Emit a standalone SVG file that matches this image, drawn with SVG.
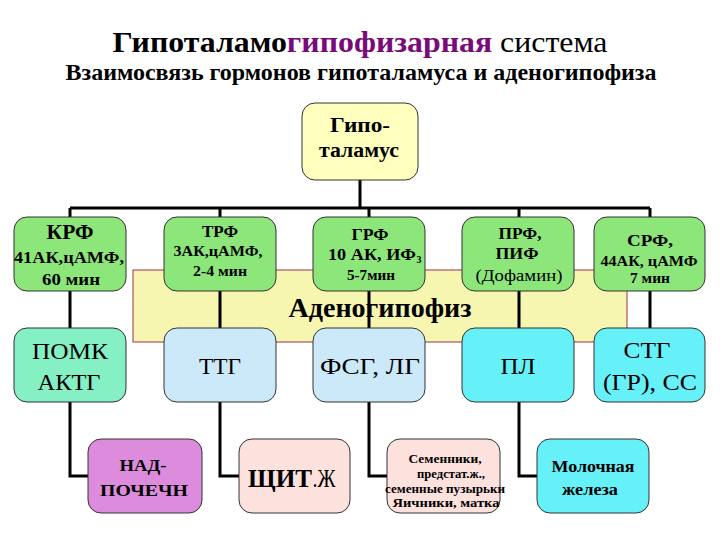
<svg xmlns="http://www.w3.org/2000/svg" width="720" height="540" viewBox="0 0 720 540">
<style>
text{font-family:"Liberation Serif","DejaVu Serif","Times New Roman",serif;fill:#000;text-anchor:middle}
.b{font-weight:bold}
.box{stroke:#333;stroke-width:1}
.green{fill:#8CE67A}
.mint{fill:#84F0C4}
.lblue{fill:#CCE9FA}
.cyan{fill:#66F0F8}
.orchid{fill:#DD8CDD}
.pink{fill:#FCE1DC}
.conn line,.conn polyline{stroke:#000;stroke-width:3;fill:none}
</style>
<rect width="720" height="540" fill="#fff"/>
<g id="title">
<text x="360" y="52" font-size="30" textLength="495" lengthAdjust="spacingAndGlyphs"><tspan class="b">Гипоталамо</tspan><tspan class="b" fill="#7A0A78">гипофизарная</tspan><tspan> система</tspan></text>
<text class="b" x="361" y="80" font-size="24" textLength="591" lengthAdjust="spacingAndGlyphs">Взаимосвязь гормонов гипоталамуса и аденогипофиза</text>
</g>
<g id="adenohypophysis">
<rect x="133" y="270" width="494" height="72" fill="#F6F6B0" stroke="#993355" stroke-width="1"/>
<text class="b" x="380" y="317" font-size="28" textLength="183" lengthAdjust="spacingAndGlyphs">Аденогипофиз</text>
</g>
<g id="connectors" class="conn">
<line x1="360" y1="180" x2="360" y2="208"/>
<line x1="70" y1="208" x2="650" y2="208"/>
<line x1="70" y1="208" x2="70" y2="217"/>
<line x1="220" y1="208" x2="220" y2="217"/>
<line x1="369" y1="208" x2="369" y2="217"/>
<line x1="519" y1="208" x2="519" y2="217"/>
<line x1="650" y1="208" x2="650" y2="217"/>
<line x1="70" y1="291" x2="70" y2="328"/>
<line x1="220" y1="291" x2="220" y2="328"/>
<line x1="369" y1="291" x2="369" y2="328"/>
<line x1="519" y1="291" x2="519" y2="328"/>
<line x1="650" y1="291" x2="650" y2="328"/>
<polyline points="70,402 70,476 88,476"/>
<polyline points="220,402 220,476 239,476"/>
<polyline points="369,402 369,476 387,476"/>
<polyline points="519,402 519,476 537,476"/>
</g>
<g id="hypothalamus">
<rect class="box" x="302" y="103" width="116" height="77" rx="13" fill="#FFFFBE"/>
<text class="b" x="360" y="132" font-size="20" textLength="60" lengthAdjust="spacingAndGlyphs">Гипо-</text>
<text class="b" x="359" y="157" font-size="20" textLength="80" lengthAdjust="spacingAndGlyphs">таламус</text>
</g>
<g id="krf">
<rect class="box green" x="14" y="217" width="112" height="74" rx="13"/>
<text class="b" x="70" y="239" font-size="21" textLength="47" lengthAdjust="spacingAndGlyphs">КРФ</text>
<text class="b" x="69" y="263" font-size="16" textLength="110" lengthAdjust="spacingAndGlyphs">41АК,цАМФ,</text>
<text class="b" x="71" y="285" font-size="16" textLength="58" lengthAdjust="spacingAndGlyphs">60 мин</text>
</g>
<g id="trf">
<rect class="box green" x="164" y="217" width="112" height="74" rx="13"/>
<text class="b" x="220" y="237" font-size="16" textLength="36" lengthAdjust="spacingAndGlyphs">ТРФ</text>
<text class="b" x="218" y="256" font-size="14" textLength="89" lengthAdjust="spacingAndGlyphs">3АК,цАМФ,</text>
<text class="b" x="220" y="276" font-size="14" textLength="54" lengthAdjust="spacingAndGlyphs">2-4 мин</text>
</g>
<g id="grf">
<rect class="box green" x="313" y="217" width="112" height="74" rx="13"/>
<text class="b" x="370" y="240" font-size="16" textLength="37" lengthAdjust="spacingAndGlyphs">ГРФ</text>
<text class="b" x="372" y="260" font-size="16" textLength="88" lengthAdjust="spacingAndGlyphs">10 АК, ИФ</text>
<text class="b" x="416.5" y="263" font-size="10" style="text-anchor:start">3</text>
<text class="b" x="371" y="280" font-size="14" textLength="48" lengthAdjust="spacingAndGlyphs">5-7мин</text>
</g>
<g id="prf">
<rect class="box green" x="462" y="217" width="112" height="74" rx="13"/>
<text class="b" x="520" y="239" font-size="17" textLength="43" lengthAdjust="spacingAndGlyphs">ПРФ,</text>
<text class="b" x="517" y="259" font-size="17" textLength="43" lengthAdjust="spacingAndGlyphs">ПИФ</text>
<text x="519" y="281" font-size="16" textLength="87" lengthAdjust="spacingAndGlyphs">(Дофамин)</text>
</g>
<g id="srf">
<rect class="box green" x="594" y="217" width="111" height="74" rx="13"/>
<text class="b" x="650" y="246" font-size="16" textLength="46" lengthAdjust="spacingAndGlyphs">СРФ,</text>
<text class="b" x="649" y="266" font-size="14" textLength="97" lengthAdjust="spacingAndGlyphs">44АК, цАМФ</text>
<text class="b" x="650" y="283" font-size="14" textLength="40" lengthAdjust="spacingAndGlyphs">7 мин</text>
</g>
<g id="pomk">
<rect class="box mint" x="14" y="328" width="112" height="74" rx="13"/>
<text x="70" y="359" font-size="24" textLength="76" lengthAdjust="spacingAndGlyphs">ПОМК</text>
<text x="69" y="390" font-size="24" textLength="63" lengthAdjust="spacingAndGlyphs">АКТГ</text>
</g>
<g id="ttg">
<rect class="box lblue" x="164" y="328" width="112" height="74" rx="13"/>
<text x="220" y="374" font-size="24" textLength="42" lengthAdjust="spacingAndGlyphs">ТТГ</text>
</g>
<g id="fsg">
<rect class="box lblue" x="313" y="328" width="112" height="74" rx="13"/>
<text x="370" y="374" font-size="24" textLength="100" lengthAdjust="spacingAndGlyphs">ФСГ, ЛГ</text>
</g>
<g id="pl">
<rect class="box cyan" x="462" y="328" width="112" height="74" rx="13"/>
<text x="518" y="374" font-size="24" textLength="35" lengthAdjust="spacingAndGlyphs">ПЛ</text>
</g>
<g id="stg">
<rect class="box cyan" x="594" y="328" width="111" height="74" rx="13"/>
<text x="647" y="358" font-size="24" textLength="47" lengthAdjust="spacingAndGlyphs">СТГ</text>
<text x="650" y="390" font-size="24" textLength="94" lengthAdjust="spacingAndGlyphs">(ГР), СС</text>
</g>
<g id="adrenal">
<rect class="box orchid" x="88" y="439" width="114" height="74" rx="13"/>
<text class="b" x="143" y="471" font-size="17" textLength="47" lengthAdjust="spacingAndGlyphs">НАД-</text>
<text class="b" x="144" y="496" font-size="17" textLength="88" lengthAdjust="spacingAndGlyphs">ПОЧЕЧН</text>
</g>
<g id="thyroid">
<rect class="box pink" x="239" y="439" width="111" height="74" rx="13"/>
<text class="b" x="280" y="487" font-size="25" textLength="64" lengthAdjust="spacingAndGlyphs">ЩИТ</text>
<text x="324" y="487" font-size="25" textLength="23" lengthAdjust="spacingAndGlyphs">.Ж</text>
</g>
<g id="gonads">
<rect class="box pink" x="387" y="439" width="113" height="74" rx="13"/>
<text class="b" x="445" y="463" font-size="12" textLength="73" lengthAdjust="spacingAndGlyphs">Семенники,</text>
<text class="b" x="451" y="478" font-size="12" textLength="68" lengthAdjust="spacingAndGlyphs">предстат.ж.,</text>
<text class="b" x="445" y="493" font-size="12" textLength="120" lengthAdjust="spacingAndGlyphs">семенные пузырьки</text>
<text class="b" x="446" y="507" font-size="12" textLength="107" lengthAdjust="spacingAndGlyphs">Яичники, матка</text>
</g>
<g id="mammary">
<rect class="box cyan" x="537" y="439" width="112" height="74" rx="13"/>
<text class="b" x="593" y="472" font-size="17" textLength="83" lengthAdjust="spacingAndGlyphs">Молочная</text>
<text class="b" x="590" y="495" font-size="17" textLength="56" lengthAdjust="spacingAndGlyphs">железа</text>
</g>
</svg>
